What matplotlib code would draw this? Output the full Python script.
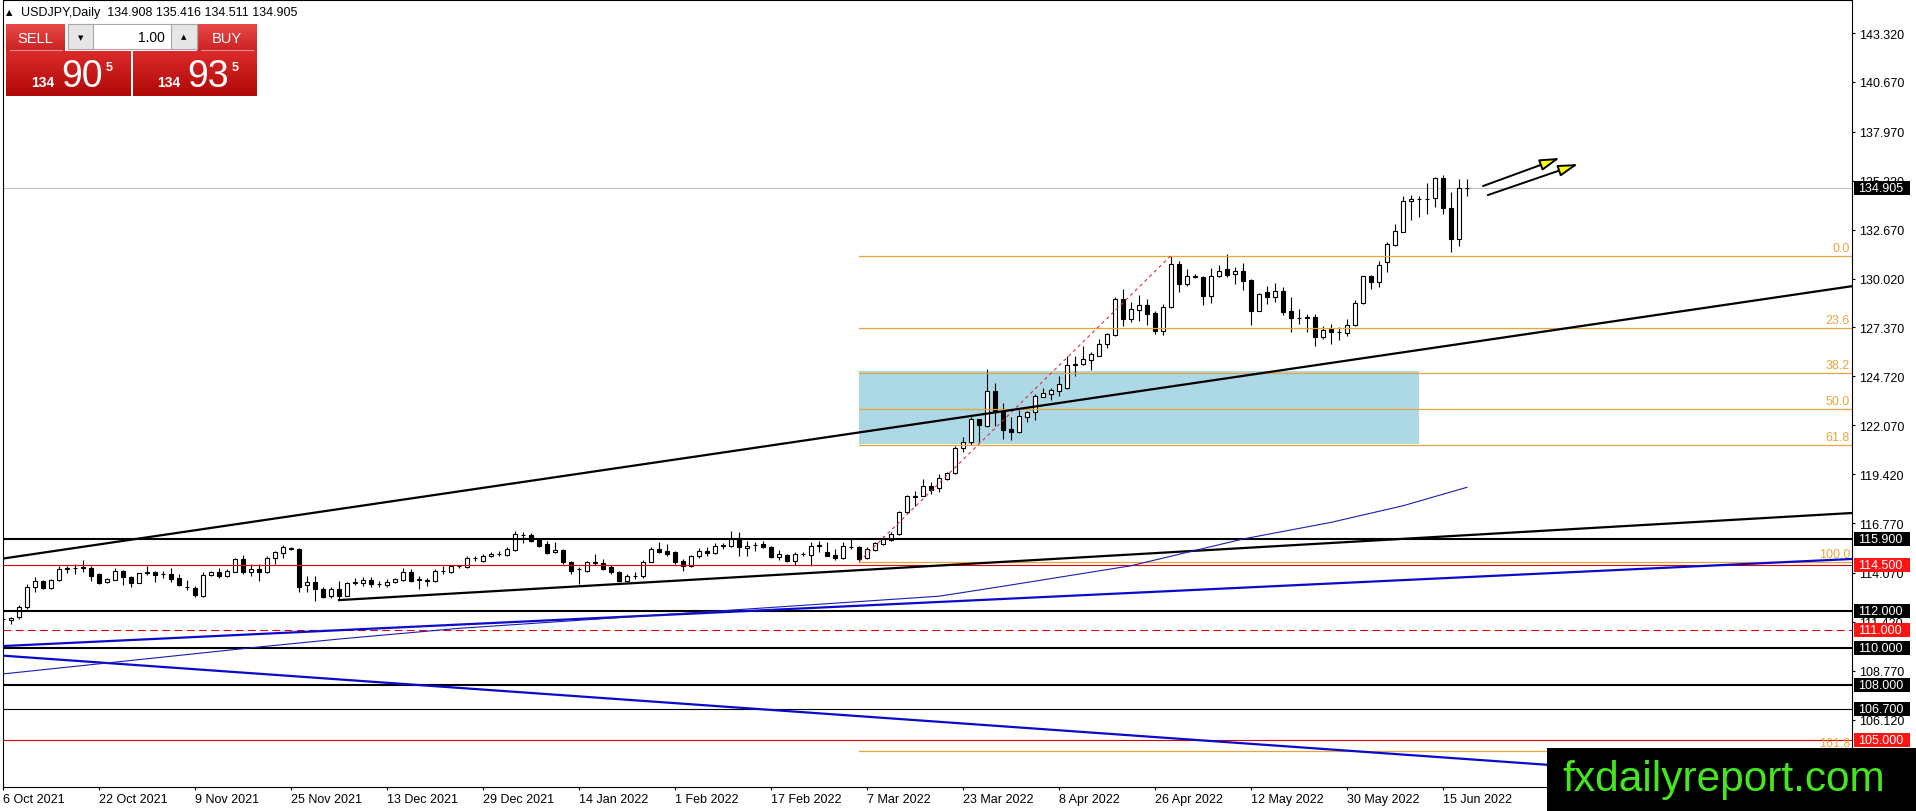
import numpy as np
import matplotlib.pyplot as plt
import matplotlib.colors as mcolors
from matplotlib.patches import Rectangle, FancyArrowPatch
from matplotlib.transforms import blended_transform_factory

plt.rcParams['font.family'] = ['Liberation Sans', 'DejaVu Sans']

# ---- data (bar index = trading day from 6 Oct 2021) ----
header = "USDJPY,Daily  134.908 135.416 134.511 134.905"

opens = [111.55, 111.52, 111.70, 112.20, 113.29, 113.63, 113.23, 113.68, 114.30, 114.33,
         114.35, 114.32, 114.01, 113.56, 113.70, 114.19, 113.83, 113.52, 114.08, 114.10,
         114.00, 114.01, 113.78, 113.30, 113.25, 112.84, 113.96, 114.10, 113.92, 114.14,
         114.82, 114.10, 114.28, 114.10, 114.90, 115.15, 115.42, 115.36, 113.42, 113.56,
         113.20, 112.80, 113.20, 112.84, 113.54, 113.52, 113.70, 113.48, 113.42, 113.56,
         113.70, 114.10, 113.70, 113.65, 113.61, 114.19, 114.10, 114.43, 114.37, 114.86,
         114.74, 114.97, 115.10, 115.04, 115.33, 116.12, 116.13, 115.91, 115.64, 115.19,
         115.33, 114.68, 114.28, 114.19, 114.63, 114.61, 114.37, 114.14, 113.65, 113.92,
         113.89, 114.68, 115.37, 115.24, 115.19, 114.70, 114.46, 114.97, 115.28, 115.15,
         115.55, 115.55, 115.95, 115.40, 115.58, 115.64, 115.46, 114.92, 115.04, 114.74,
         115.10, 115.04, 115.55, 115.22, 115.04, 114.90, 115.50, 115.46, 114.86, 115.33,
         115.64, 115.87, 116.18, 117.35, 118.20, 118.26, 118.76, 118.65, 119.16, 119.47,
         120.82, 121.15, 122.41, 122.05, 123.91, 122.86, 121.87, 121.69, 122.53, 122.81,
         123.62, 123.76, 123.94, 124.07, 125.35, 125.37, 125.62, 125.84, 126.45, 126.98,
         128.91, 127.83, 128.33, 128.59, 128.15, 127.20, 128.46, 130.79, 129.72, 130.14,
         130.08, 129.06, 130.14, 130.53, 130.25, 130.41, 129.94, 128.28, 129.27, 129.04,
         129.33, 128.24, 127.87, 127.90, 127.92, 126.87, 127.29, 127.13, 127.05, 127.52,
         128.67, 130.14, 129.85, 130.90, 131.85, 132.56, 134.20, 134.33, 134.33, 134.36,
         135.45, 133.82, 132.16, 134.908]
highs = [111.75, 111.66, 112.33, 113.47, 113.83, 113.70, 113.72, 114.46, 114.46, 114.55,
         114.75, 114.46, 114.05, 113.78, 114.33, 114.25, 113.92, 114.08, 114.42, 114.19,
         114.19, 114.32, 114.01, 113.70, 113.38, 114.10, 114.20, 114.32, 114.28, 114.90,
         115.04, 114.55, 114.55, 114.97, 115.27, 115.58, 115.49, 115.40, 113.92, 113.92,
         113.29, 113.33, 113.65, 113.60, 113.78, 113.83, 113.83, 113.65, 113.74, 113.80,
         114.32, 114.28, 113.92, 113.78, 114.28, 114.46, 114.48, 114.50, 114.97, 114.97,
         115.10, 115.22, 115.28, 115.46, 116.36, 116.31, 116.24, 115.95, 115.82, 115.73,
         115.37, 114.74, 114.37, 114.74, 115.10, 114.83, 114.50, 114.19, 114.01, 114.14,
         114.77, 115.50, 115.77, 115.64, 115.24, 114.83, 115.04, 115.40, 115.46, 115.69,
         115.69, 116.36, 116.27, 115.82, 115.77, 115.82, 115.55, 115.33, 115.10, 115.19,
         115.22, 115.73, 115.82, 115.77, 115.37, 115.73, 115.91, 115.51, 115.50, 115.76,
         116.05, 116.27, 117.44, 118.29, 118.53, 119.16, 119.00, 119.43, 119.52, 120.97,
         121.42, 122.50, 122.41, 125.12, 124.36, 123.28, 122.50, 122.91, 122.86, 123.76,
         124.07, 124.07, 124.76, 125.80, 125.84, 126.35, 126.02, 126.74, 127.05, 129.00,
         129.45, 128.73, 129.13, 128.91, 128.28, 128.64, 131.26, 130.99, 130.54, 130.26,
         130.17, 130.57, 130.75, 131.35, 130.62, 130.84, 129.99, 129.22, 129.63, 129.78,
         129.54, 129.00, 128.37, 128.10, 128.10, 127.47, 127.56, 127.38, 127.83, 128.87,
         130.17, 130.21, 130.99, 131.98, 132.97, 134.47, 134.54, 134.47, 135.19, 135.50,
         135.63, 134.69, 135.41, 135.416]
lows = [111.30, 111.30, 111.57, 112.11, 113.02, 113.20, 113.20, 113.66, 114.05, 114.00,
        114.10, 113.65, 113.45, 113.50, 113.68, 113.42, 113.29, 113.50, 113.96, 113.56,
        113.78, 113.60, 113.34, 113.16, 112.75, 112.75, 113.90, 113.78, 113.85, 114.10,
        114.00, 113.88, 113.61, 114.06, 114.55, 114.86, 115.31, 113.05, 113.02, 112.57,
        112.69, 112.71, 112.66, 112.80, 113.42, 113.38, 113.29, 113.29, 113.29, 113.50,
        113.65, 113.56, 113.20, 113.38, 113.56, 114.01, 114.05, 114.32, 114.32, 114.74,
        114.65, 114.92, 115.01, 115.00, 115.28, 115.69, 115.73, 115.50, 115.10, 115.15,
        114.55, 114.01, 113.47, 114.14, 114.52, 114.25, 114.01, 113.60, 113.56, 113.74,
        113.82, 114.68, 115.15, 115.01, 114.55, 114.19, 114.37, 114.86, 115.01, 115.10,
        115.37, 115.50, 115.01, 115.01, 115.28, 115.40, 114.86, 114.79, 114.68, 114.50,
        114.97, 114.43, 115.22, 114.97, 114.79, 114.83, 115.37, 114.68, 114.80, 115.28,
        115.58, 115.82, 116.13, 117.32, 117.72, 118.22, 118.35, 118.47, 119.12, 119.43,
        120.60, 121.00, 121.15, 122.00, 122.01, 121.33, 121.27, 121.65, 122.27, 122.37,
        123.58, 123.46, 123.67, 124.03, 124.76, 125.33, 125.08, 125.80, 126.24, 126.92,
        127.47, 127.68, 127.74, 127.50, 127.02, 126.96, 128.40, 129.27, 129.63, 130.03,
        128.58, 128.69, 130.08, 130.08, 129.72, 129.42, 127.50, 128.26, 128.64, 128.73,
        128.04, 127.10, 127.56, 127.14, 126.38, 126.74, 126.47, 126.69, 126.92, 127.47,
        128.62, 129.45, 129.54, 130.39, 131.80, 132.52, 133.20, 133.33, 133.50, 133.88,
        133.51, 131.47, 131.76, 134.511]
closes = [111.60, 111.64, 112.24, 113.29, 113.63, 113.23, 113.70, 114.28, 114.32, 114.35,
          114.37, 113.92, 113.50, 113.74, 114.19, 113.83, 113.52, 114.06, 114.10, 113.96,
          114.02, 113.74, 113.42, 113.29, 112.89, 113.96, 114.14, 113.92, 114.19, 114.82,
          114.10, 114.28, 114.10, 114.86, 115.18, 115.45, 115.38, 113.29, 113.56, 113.20,
          112.78, 113.20, 112.80, 113.52, 113.56, 113.69, 113.47, 113.47, 113.60, 113.74,
          114.10, 113.65, 113.72, 113.67, 114.15, 114.20, 114.43, 114.45, 114.86, 114.87,
          114.97, 115.10, 115.11, 115.37, 116.18, 116.13, 115.82, 115.55, 115.15, 115.33,
          114.64, 114.19, 114.29, 114.64, 114.65, 114.28, 114.10, 113.65, 113.92, 113.93,
          114.68, 115.37, 115.22, 115.10, 114.64, 114.46, 115.01, 115.24, 115.13, 115.55,
          115.56, 115.91, 115.46, 115.55, 115.59, 115.46, 114.92, 115.10, 114.74, 115.10,
          115.11, 115.55, 115.56, 114.97, 114.86, 115.51, 115.49, 114.83, 115.37, 115.67,
          115.91, 116.18, 117.35, 118.26, 118.26, 118.76, 118.58, 119.20, 119.47, 120.84,
          121.15, 122.41, 122.09, 123.91, 122.81, 121.83, 121.69, 122.55, 122.77, 123.64,
          123.80, 123.98, 124.29, 125.35, 125.39, 125.66, 125.93, 126.45, 126.99, 128.91,
          127.83, 128.37, 128.59, 128.10, 127.20, 128.46, 130.79, 129.72, 130.14, 130.10,
          129.06, 130.14, 130.44, 130.23, 130.41, 129.90, 128.28, 129.18, 129.04, 129.33,
          128.19, 127.86, 127.88, 127.92, 126.87, 127.25, 127.10, 127.14, 127.52, 128.69,
          130.14, 129.85, 130.77, 131.87, 132.58, 134.20, 134.33, 134.34, 134.34, 135.45,
          133.82, 132.16, 134.90, 134.905]

date_ticks = list(range(0, 181, 12))
date_labels = ["6 Oct 2021", "22 Oct 2021", "9 Nov 2021", "25 Nov 2021", "13 Dec 2021",
               "29 Dec 2021", "14 Jan 2022", "1 Feb 2022", "17 Feb 2022", "7 Mar 2022",
               "23 Mar 2022", "8 Apr 2022", "26 Apr 2022", "12 May 2022", "30 May 2022",
               "15 Jun 2022"]
price_ticks = [143.32, 140.67, 137.97, 135.32, 132.67, 130.02, 127.37, 124.72, 122.07,
               119.42, 116.77, 114.07, 111.42, 108.77, 106.12, 103.47]

levels = [115.9, 114.5, 112.0, 111.0, 110.0, 108.0, 106.7, 105.0]
level_kind = ['black', 'red', 'black', 'red', 'black', 'black', 'black', 'red']
level_width = [1.5, 0.8, 1.5, 0.8, 1.5, 1.5, 0.8, 0.8]
level_dash = ['-', '-', '-', '--', '-', '-', '-', '-']
bid = 134.905

fib_low = (107, 114.68)
fib_high = (146, 131.26)
fib_ratios = [0.0, 23.6, 38.2, 50.0, 61.8, 100.0, 161.8]
zone_bars = (107, 177)
zone_prices = (121.05, 125.02)

black_long = ([0, 231.2], [114.85, 129.61])
black_low = ([42, 231.2], [112.60, 117.32])
blue_up = ([0, 231.2], [110.11, 114.83])
blue_down = ([0, 231.2], [109.59, 102.51])

ma_bars = [0, 32, 42, 57, 117, 125, 141, 155, 166, 175, 183]
ma_vals = [108.60, 110.06, 110.49, 111.07, 112.81, 113.35, 114.46, 115.91, 116.81, 117.71, 118.71]

arrows = [((185.0, 135.03), (194.6, 136.55)), ((185.6, 134.54), (196.9, 136.22))]

# ---- figure ----
W, H = 1916, 812
fig = plt.figure(figsize=(W / 100, H / 100), dpi=100)
fig.patch.set_facecolor('white')
ax = fig.add_axes([3 / W, (H - 788) / H, 1849 / W, 787 / H])
ax.set_xlim(0, 1849 / 8)
ax.set_ylim(102.475, 145.108)

RED_LINE = '#dd0000'
RED_BOX = '#ff1414'
ORANGE = '#e9a63c'
BLUE = '#0a0acc'

# zone rectangle behind everything
ax.add_patch(Rectangle((zone_bars[0], zone_prices[0]), zone_bars[1] - zone_bars[0],
                       zone_prices[1] - zone_prices[0], facecolor='#add8e6',
                       edgecolor='none', zorder=1))

# candles
o = np.array(opens); h = np.array(highs); l = np.array(lows); c = np.array(closes)
x = np.arange(len(o))
ax.vlines(x, l, h, color='black', lw=0.8, zorder=3)
body_lo = np.minimum(o, c)
body_h = np.maximum(np.abs(c - o), 0.002)
fill = ['white' if cc >= oo else 'black' for oo, cc in zip(o, c)]
ax.bar(x, body_h, bottom=body_lo, width=0.55, color=fill, edgecolor='black',
       linewidth=0.8, zorder=4)

# horizontal levels
for lv, kind, lw, ls in zip(levels, level_kind, level_width, level_dash):
    col = 'black' if kind == 'black' else RED_LINE
    ax.axhline(lv, color=col, lw=lw, ls=ls, dashes=(7, 4) if ls == '--' else (None, None),
               zorder=5)
ax.axhline(bid, color='#c0c0c0', lw=0.8, zorder=2)

# fibonacci
fib_rng = fib_high[1] - fib_low[1]
for r in fib_ratios:
    p = fib_high[1] - r / 100 * fib_rng
    ax.plot([fib_low[0], 1849 / 8], [p, p], color=ORANGE, lw=0.9, zorder=5)
    ax.text(0.9989, p + 0.08, f"{r:.1f}", transform=blended_transform_factory(ax.transAxes, ax.transData),
            ha='right', va='bottom', color=ORANGE, fontsize=9, zorder=6)
ax.plot([fib_low[0], fib_high[0]], [fib_low[1], fib_high[1]], color='#e03040', lw=0.8,
        ls=(0, (3, 3)), zorder=5)

# trend lines and moving average
ax.plot(*black_long, color='black', lw=1.6, zorder=6)
ax.plot(*black_low, color='black', lw=1.6, zorder=6)
ax.plot(*blue_up, color=BLUE, lw=1.6, zorder=6)
ax.plot(*blue_down, color=BLUE, lw=1.6, zorder=6)
ax.plot(ma_bars, ma_vals, color='#1c1cb4', lw=0.8, zorder=6)

for a, b in arrows:
    ax.add_patch(FancyArrowPatch(a, b, arrowstyle='-|>,head_length=12,head_width=3.5',
                                 mutation_scale=1, lw=1.4, edgecolor='black',
                                 facecolor='#ffff00', shrinkA=0, shrinkB=0, zorder=7))

# axes styling
for s in ax.spines.values():
    s.set_color('black'); s.set_linewidth(0.8)
ax.yaxis.tick_right()
ax.set_yticks(price_ticks)
ax.set_yticklabels([f"{t:.3f}" for t in price_ticks])
ax.tick_params(axis='y', direction='out', length=2.5, width=0.8, pad=2.5, labelsize=9,
               colors='black')
ax.set_xticks(date_ticks)
ax.set_xticklabels(date_labels, ha='left')
ax.tick_params(axis='x', direction='out', length=2.5, width=0.8, pad=1.5, labelsize=9)

# price boxes on the right axis
bt = blended_transform_factory(ax.transAxes, ax.transData)
box_half = 7 / 18.46
for lv, kind in list(zip(levels, level_kind)) + [(bid, 'black')]:
    bg = 'black' if kind == 'black' else RED_BOX
    ax.add_patch(Rectangle((1.0011, lv - box_half), 56 / 1849, 2 * box_half, transform=bt,
                           facecolor=bg, edgecolor='none', clip_on=False, zorder=8))
    ax.text(1.0033, lv, f"{lv:.3f}", transform=bt, ha='left', va='center', color='white',
            fontsize=9, clip_on=False, zorder=9)

# ---- overlay in pixel coordinates: header, trade panel, watermark ----
ov = fig.add_axes([0, 0, 1, 1], zorder=5)
ov.set_facecolor('none')
ov.axis('off')


def grad_box(x0, y0, x1, y1, c_top, c_bot):
    t = np.array(mcolors.to_rgb(c_top)); b = np.array(mcolors.to_rgb(c_bot))
    g = np.linspace(0, 1, 48)[:, None, None]
    img = t + (b - t) * g
    ov.imshow(img, extent=[x0, x1, y1, y0], aspect='auto', interpolation='bilinear', zorder=2)


ov.text(6, 13, "▲", fontsize=6, va='center', family=['DejaVu Sans'])
ov.text(21, 13, header, fontsize=9, va='center')

# sell / buy buttons
grad_box(6, 25, 65, 52, '#e84848', '#cc2222')
grad_box(197, 25, 257, 52, '#e84848', '#cc2222')
grad_box(6, 52, 131, 97, '#dc2a2a', '#b00808')
grad_box(133, 52, 257, 97, '#dc2a2a', '#b00808')
ov.plot([10, 62], [51, 51], color='#f29090', lw=0.8, zorder=3)
ov.plot([201, 253], [51, 51], color='#f29090', lw=0.8, zorder=3)
ov.text(35.5, 39, "SELL", color='white', fontsize=10.5, ha='center', va='center', zorder=4)
ov.text(227, 39, "BUY", color='white', fontsize=10.5, ha='center', va='center', zorder=4)

ov.add_patch(Rectangle((68, 25), 129, 25, facecolor='white', edgecolor='#a8a8a8', lw=0.8, zorder=3))
ov.add_patch(Rectangle((68, 25), 25, 25, facecolor='#e6e6e6', edgecolor='#a8a8a8', lw=0.8, zorder=3))
ov.add_patch(Rectangle((171, 25), 26, 25, facecolor='#e6e6e6', edgecolor='#a8a8a8', lw=0.8, zorder=3))
ov.text(80.5, 38, "▼", fontsize=5, ha='center', va='center', family=['DejaVu Sans'], zorder=4)
ov.text(184, 37, "▲", fontsize=5, ha='center', va='center', family=['DejaVu Sans'], zorder=4)
ov.text(165, 38, "1.00", fontsize=10, ha='right', va='center', zorder=4)

for px, big in [(31, "90"), (157, "93")]:
    ov.text(px, 87, "134", color='white', fontsize=10, fontweight='bold', va='baseline', zorder=4)
    ov.text(px + 30, 87, big, color='white', fontsize=27, va='baseline', zorder=4)
    ov.text(px + 75, 62, "5", color='white', fontsize=9, fontweight='bold', va='top', zorder=4)

# watermark
ov.add_patch(Rectangle((1547, 749), W - 1547, H - 749, facecolor='black', edgecolor='none', zorder=5))
ov.text(1562, 791, "fxdailyreport.com", color='#46e61e', fontsize=30.5, va='baseline', zorder=6)

ov.set_xlim(0, W)
ov.set_ylim(H, 0)

fig.savefig('out.png', dpi=100)
